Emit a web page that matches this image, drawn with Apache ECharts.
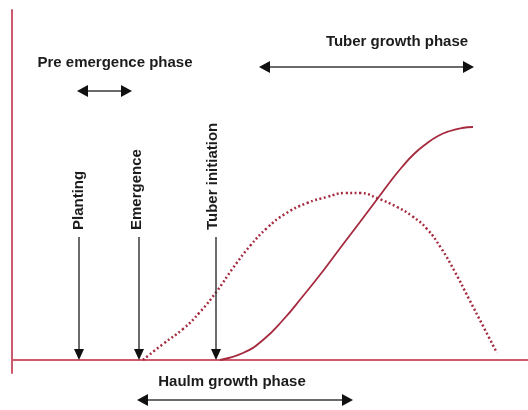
<!DOCTYPE html>
<html>
<head>
<meta charset="utf-8">
<script src="https://cdn.jsdelivr.net/npm/echarts@6/dist/echarts.min.js"></script>
<style>
  html, body { margin: 0; padding: 0; background: #fff; }
  #main { width: 528px; height: 410px; }
</style>
</head>
<body>
<div id="main"></div>
<script>
// curves (x = time, y = amount)
const haulmX = [131, 151, 171, 188, 205, 221, 238, 255, 273, 295, 315, 333, 348, 365, 385, 400, 415, 429, 443, 457, 471, 485];
const haulmY = [0, 16, 31, 48, 69, 92, 114, 132, 146, 157, 163, 167, 167, 162, 153, 144, 131, 112, 88, 61, 34, 7];
const tuberX = [208, 231, 251, 271, 291, 311, 329, 348, 366, 378, 390, 402, 414, 426, 438, 450, 461];
const tuberY = [0, 7, 20, 40, 64, 89, 113, 138, 162, 178, 193, 206, 216, 224, 229, 232, 233];

// events along the time axis
const eventNames = ['Planting', 'Emergence', 'Tuber initiation'];
const eventX = [67, 127, 204];
const eventTop = 123;
const eventLabelX = [67, 125, 201];
const eventLabelY = 130;

// phases
const phaseNames = ['Pre emergence phase', 'Tuber growth phase', 'Haulm growth phase'];
const phaseStart = [65, 247, 125];
const phaseEnd = [120, 462, 341];
const phaseY = [269, 293, -40];
const phaseLabelX = [103, 385, 220];
const phaseLabelY = [297, 318, -22];

const lineRed = '#a52a3e';
const axisRed = '#cc5a6c';
const ink = '#3a3a3a';
const font = "bold 15px 'Liberation Sans', Arial, sans-serif";

function zip(xs, ys) {
  return xs.map((x, i) => [x, ys[i]]);
}

const chart = echarts.init(document.getElementById('main'));

chart.setOption({
  animation: false,
  grid: { left: 12, right: 0, top: 10, bottom: 37 },
  xAxis: {
    type: 'value',
    min: 0,
    max: 516,
    axisLine: { show: true, onZero: true, lineStyle: { color: axisRed, width: 2 } },
    axisTick: { show: false },
    axisLabel: { show: false },
    splitLine: { show: false }
  },
  yAxis: {
    type: 'value',
    min: -13,
    max: 350,
    axisLine: { show: true, lineStyle: { color: axisRed, width: 2 } },
    axisTick: { show: false },
    axisLabel: { show: false },
    splitLine: { show: false }
  },
  series: [
    {
      name: 'Haulm',
      type: 'line',
      smooth: 0.5,
      symbol: 'none',
      data: zip(haulmX, haulmY),
      lineStyle: { color: lineRed, width: 2.5, type: [2, 2.5] }
    },
    {
      name: 'Tuber',
      type: 'line',
      smooth: 0.5,
      symbol: 'none',
      data: zip(tuberX, tuberY),
      lineStyle: { color: lineRed, width: 1.8 }
    },
    {
      // event markers: vertical arrows with rotated labels
      type: 'custom',
      z: 5,
      data: eventNames.map((n, i) => [i]),
      renderItem: function (params, api) {
        const i = api.value(0);
        const top = api.coord([eventX[i], eventTop]);
        const tip = api.coord([eventX[i], 0]);
        const lab = api.coord([eventLabelX[i], eventLabelY]);
        return {
          type: 'group',
          children: [
            {
              type: 'line',
              shape: { x1: top[0], y1: top[1], x2: tip[0], y2: tip[1] - 9 },
              style: { stroke: ink, lineWidth: 1.5 }
            },
            {
              type: 'polygon',
              shape: { points: [[tip[0] - 5, tip[1] - 11], [tip[0] + 5, tip[1] - 11], [tip[0], tip[1]]] },
              style: { fill: '#111' }
            },
            {
              type: 'text',
              x: lab[0],
              y: lab[1],
              rotation: Math.PI / 2,
              style: {
                text: eventNames[i],
                font: font,
                fill: '#1c1c1c',
                align: 'left',
                verticalAlign: 'middle'
              }
            }
          ]
        };
      }
    },
    {
      // phases: double-headed horizontal arrows with labels
      type: 'custom',
      z: 5,
      data: phaseNames.map((n, i) => [i]),
      renderItem: function (params, api) {
        const i = api.value(0);
        const a = api.coord([phaseStart[i], phaseY[i]]);
        const b = api.coord([phaseEnd[i], phaseY[i]]);
        const lab = api.coord([phaseLabelX[i], phaseLabelY[i]]);
        return {
          type: 'group',
          children: [
            {
              type: 'line',
              shape: { x1: a[0] + 8, y1: a[1], x2: b[0] - 8, y2: b[1] },
              style: { stroke: ink, lineWidth: 1.5 }
            },
            {
              type: 'polygon',
              shape: { points: [[a[0], a[1]], [a[0] + 11, a[1] - 6], [a[0] + 11, a[1] + 6]] },
              style: { fill: '#111' }
            },
            {
              type: 'polygon',
              shape: { points: [[b[0], b[1]], [b[0] - 11, b[1] - 6], [b[0] - 11, b[1] + 6]] },
              style: { fill: '#111' }
            },
            {
              type: 'text',
              x: lab[0],
              y: lab[1],
              style: {
                text: phaseNames[i],
                font: font,
                fill: '#1c1c1c',
                align: 'center',
                verticalAlign: 'middle'
              }
            }
          ]
        };
      }
    }
  ]
});
</script>
</body>
</html>
